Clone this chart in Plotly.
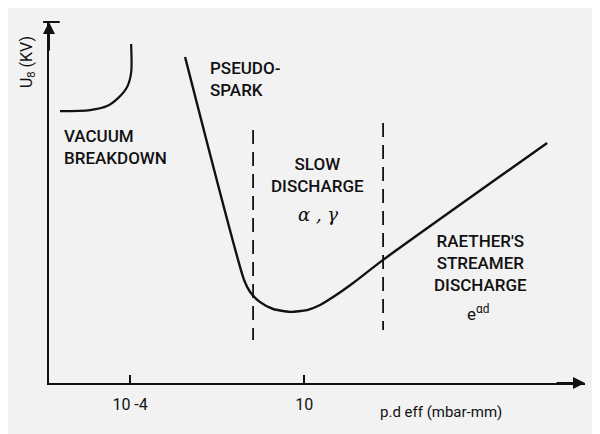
import math

import plotly.graph_objects as go

# Paschen-type breakdown curve (schematic), p.d in mbar-mm, U in arbitrary units
main_pd = [3.8e-3, 0.189, 0.281, 0.545, 1.29, 3.96, 12.2, 28.8, 68, 256, 1860, 9.6e7]
main_u = [90.3, 28.5, 25.2, 22.4, 20.5, 19.7, 20.2, 21.6, 23.8, 27.7, 34.1, 66.5]

vacuum_pd = [9.7e-7, 7.1e-6, 2.18e-5, 4.5e-5, 8.2e-5, 1.07e-4, 1.07e-4]
vacuum_u = [75.3, 75.6, 76.7, 78.9, 82.0, 85.9, 93.9]

boundary_pd = [0.342, 1860]
boundary_u = [[70.1, 11.9], [72.0, 14.7]]

tick_vals = [1e-4, 10]
tick_text = ["10 -4", "10"]

FONT = "Roboto, Liberation Sans, sans-serif"
INK = "#111111"

fig = go.Figure()

fig.add_trace(go.Scatter(
    x=vacuum_pd, y=vacuum_u, mode="lines",
    line=dict(color=INK, width=2.2, shape="spline", smoothing=0.8),
))
fig.add_trace(go.Scatter(
    x=main_pd, y=main_u, mode="lines",
    line=dict(color=INK, width=2.4, shape="spline", smoothing=0.6),
))
for x, ys in zip(boundary_pd, boundary_u):
    fig.add_trace(go.Scatter(
        x=[x, x], y=ys, mode="lines",
        line=dict(color=INK, width=1.8, dash="14px,8px"),
    ))

labels = [
    (1.1e-6, 65.4, "VACUUM<br>BREAKDOWN", "left"),
    (1.74e-2, 84.2, "PSEUDO-<br>SPARK", "left"),
    (25, 57.5, "SLOW<br>DISCHARGE", "center"),
    (1.15e6, 33.2, "RAETHER'S<br>STREAMER<br>DISCHARGE", "center"),
]
for x, y, text, anchor in labels:
    fig.add_annotation(
        x=math.log10(x), y=y, text=text, showarrow=False,
        xanchor=anchor, align=anchor,
        font=dict(family=FONT, size=17, color=INK, weight=500),
    )

fig.add_annotation(
    x=math.log10(25), y=46.8, text="α , γ", showarrow=False,
    font=dict(family="DejaVu Serif", size=18, color=INK, style="italic"),
)
fig.add_annotation(
    x=6.0, y=19.4, text="e<sup>αd</sup>", showarrow=False,
    font=dict(family=FONT, size=17, color=INK),
)

# axis titles
fig.add_annotation(
    xref="paper", yref="paper", x=0.731, y=-0.08,
    xanchor="center", yanchor="middle",
    text="p.d eff (mbar-mm)", showarrow=False,
    font=dict(family=FONT, size=15, color=INK),
)
fig.add_annotation(
    xref="paper", yref="paper", x=-0.041, y=0.889, textangle=-90,
    xanchor="center", yanchor="middle",
    text="U<sub>8</sub> (KV)", showarrow=False,
    font=dict(family=FONT, size=16, color=INK),
)

# axis arrows
fig.add_annotation(
    xref="paper", yref="paper", x=1.0, y=0, ax=-30, ay=0,
    text="", showarrow=True, arrowhead=2, arrowsize=1.2,
    arrowwidth=2, arrowcolor=INK,
)
fig.add_annotation(
    xref="paper", yref="paper", x=0, y=1.0, ax=0, ay=30,
    text="", showarrow=True, arrowhead=2, arrowsize=1.2,
    arrowwidth=2, arrowcolor=INK,
)
fig.add_shape(
    type="line", xref="paper", yref="paper",
    x0=-0.011, x1=0.02, y0=1.0, y1=1.0,
    line=dict(color=INK, width=2),
)

fig.update_xaxes(
    type="log", range=[-6.33, 9.07],
    tickvals=tick_vals, ticktext=tick_text,
    ticks="inside", ticklen=8, tickwidth=1.5, tickcolor=INK,
    showline=True, linewidth=2, linecolor=INK,
    showgrid=False, zeroline=False,
    ticklabelstandoff=6,
    tickfont=dict(family=FONT, size=16, color=INK),
)
fig.update_yaxes(
    range=[0, 100], showticklabels=False, ticks="",
    showline=True, linewidth=2, linecolor=INK,
    showgrid=False, zeroline=False,
)

# the page body adds an 8px margin, so the figure is 8px smaller
fig.update_layout(
    width=592, height=426,
    margin=dict(l=41, r=15, t=14, b=51),
    paper_bgcolor="#f2f2f2", plot_bgcolor="#f2f2f2",
    showlegend=False,
)

fig.write_html("out.html")
